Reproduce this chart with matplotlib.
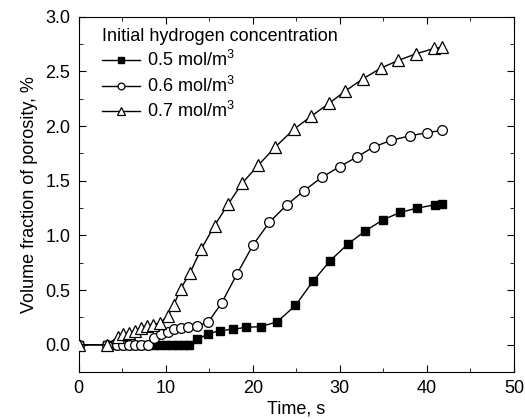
import matplotlib
matplotlib.use("Agg")
import matplotlib.pyplot as plt
from matplotlib.ticker import MultipleLocator

plt.rcParams['font.family'] = ['Liberation Sans', 'DejaVu Sans']
plt.rcParams['mathtext.fontset'] = 'custom'
plt.rcParams['mathtext.rm'] = 'Liberation Sans'
plt.rcParams['mathtext.it'] = 'Liberation Sans'

# ===== DATA =====
labels = ["0.5 mol/m$^{3}$", "0.6 mol/m$^{3}$", "0.7 mol/m$^{3}$"]

t_05 = [0, 3.2, 4.4, 5.1, 5.8, 6.5, 7.2, 7.9, 8.6, 9.3, 10.0, 10.7, 11.4, 12.1, 12.7,
        13.6, 14.9, 16.2, 17.7, 19.2, 20.9, 22.8, 24.9, 26.9, 28.9, 30.9, 32.9, 34.9,
        36.9, 38.9, 40.9, 41.7]
p_05 = [0, 0, 0, 0, 0, 0, 0, 0, 0, 0, 0, 0, 0, 0, 0,
        0.05, 0.10, 0.13, 0.14, 0.16, 0.165, 0.21, 0.36, 0.58, 0.77, 0.92, 1.04, 1.14,
        1.21, 1.25, 1.28, 1.29]

t_06 = [0, 3.2, 4.4, 5.1, 5.8, 6.5, 7.2, 7.9, 8.7, 9.4, 10.2, 10.9, 11.7, 12.6, 13.6,
        14.9, 16.4, 18.2, 20.0, 21.9, 23.9, 25.9, 27.9, 30.0, 32.0, 33.9, 35.9, 38.0,
        40.0, 41.7]
p_06 = [0, 0, 0, 0, 0, 0, 0, 0, 0.06, 0.10, 0.12, 0.14, 0.15, 0.16, 0.17,
        0.21, 0.38, 0.65, 0.91, 1.12, 1.28, 1.41, 1.53, 1.63, 1.72, 1.81, 1.87, 1.91,
        1.94, 1.96]

t_07 = [0, 3.2, 4.5, 5.1, 5.8, 6.5, 7.2, 7.8, 8.5, 9.3, 10.2, 10.9, 11.7, 12.8, 14.1,
        15.6, 17.2, 18.8, 20.6, 22.6, 24.7, 26.7, 28.8, 30.6, 32.6, 34.7, 36.7, 38.7,
        40.8, 41.7]
p_07 = [0, 0, 0.07, 0.095, 0.11, 0.13, 0.15, 0.17, 0.18, 0.20, 0.26, 0.36, 0.51, 0.66, 0.88,
        1.09, 1.29, 1.48, 1.64, 1.81, 1.97, 2.09, 2.21, 2.32, 2.43, 2.53, 2.60, 2.66,
        2.71, 2.72]

# ===== PLOT =====
fs = 13
fig = plt.figure(figsize=(5.25, 4.19), dpi=100)
ax = fig.add_axes([0.150, 0.112, 0.829, 0.848])

ax.plot(t_05, p_05, '-', color='black', lw=1.0, marker='s', ms=6,
        mfc='black', mec='black', label=labels[0], zorder=3)
ax.plot(t_06, p_06, '-', color='black', lw=1.0, marker='o', ms=7,
        mfc='white', mec='black', mew=0.9, label=labels[1], zorder=4)
ax.plot(t_07, p_07, '-', color='black', lw=1.0, marker='^', ms=8,
        mfc='white', mec='black', mew=0.9, label=labels[2], zorder=5)

ax.set_xlim(0, 50)
ax.set_ylim(-0.25, 3.0)
ax.xaxis.set_major_locator(MultipleLocator(10))
ax.xaxis.set_minor_locator(MultipleLocator(5))
ax.yaxis.set_major_locator(MultipleLocator(0.5))
ax.yaxis.set_minor_locator(MultipleLocator(0.25))
ax.yaxis.set_major_formatter(plt.FuncFormatter(lambda v, p: f"{v:.1f}"))
ax.tick_params(which='both', direction='in', top=True, right=True, labelsize=fs)
ax.tick_params(which='major', length=5, pad=6)
ax.tick_params(which='minor', length=3)

ax.set_xlabel("Time, s", fontsize=fs, labelpad=2)
ax.set_ylabel("Volume fraction of porosity, %", fontsize=fs, labelpad=5)

leg = ax.legend(title="Initial hydrogen concentration", loc='upper left',
                bbox_to_anchor=(0.036, 0.989), borderaxespad=0,
                frameon=False, fontsize=fs, title_fontsize=fs, alignment='left',
                handlelength=2.1, handletextpad=0.4, labelspacing=0.3,
                markerscale=0.7)

plt.savefig("out.png", dpi=100)
plt.close()
